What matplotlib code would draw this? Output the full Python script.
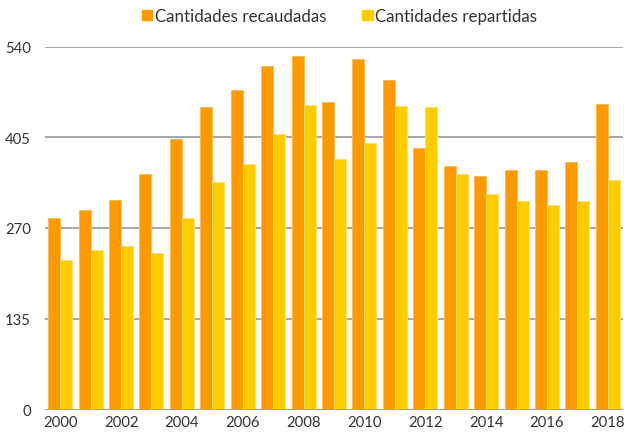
import matplotlib
matplotlib.use("Agg")
import matplotlib.pyplot as plt
import numpy as np
from matplotlib.patches import Patch

years = list(range(2000, 2019))
recaudadas = [285, 297, 311, 350, 403, 450, 475, 511, 526, 457, 521, 490,
              389, 362, 348, 356, 356, 368, 454]
repartidas = [222, 237, 243, 233, 285, 338, 365, 410, 453, 372, 396, 451,
              450, 350, 320, 310, 304, 310, 342]
yticks = [0, 135, 270, 405, 540]
xtick_years = list(range(2000, 2019, 2))

c_orange = "#FF9900"
c_yellow = "#FFCC00"
txt = "#333333"

plt.rcParams['font.family'] = ['Lato', 'DejaVu Sans']

fig = plt.figure(figsize=(6.24, 4.35), dpi=100)
ax = fig.add_axes([45/624, (435-410.5)/435, (623-45)/624, (410.5-47.5)/435])

x = np.arange(len(years))
w = 0.394
ax.bar(x - w/2, recaudadas, width=w, color=c_orange, edgecolor="#FFB84D",
       linewidth=0.6, zorder=3)
ax.bar(x + w/2, repartidas, width=w, color=c_yellow, edgecolor="#FFDD66",
       linewidth=0.6, zorder=3)

ax.set_xlim(-0.5, 18.5)
ax.set_ylim(0, 540)
ax.set_yticks(yticks)
ax.set_yticklabels([str(v) for v in yticks])
ax.yaxis.grid(True, color="#A0A0A0", linewidth=1.3, zorder=0)
ax.set_axisbelow(True)
for s in ax.spines.values():
    s.set_visible(False)
ax.axhline(0, color="#A0A0A0", linewidth=1.3, zorder=4)

ax.set_xticks([years.index(y) for y in xtick_years])
ax.set_xticklabels([str(y) for y in xtick_years])
ax.tick_params(axis="both", length=0, labelsize=10.7, colors=txt)
ax.tick_params(axis="y", pad=10)
ax.tick_params(axis="x", pad=4)

handles = [Patch(color=c_orange, label="Cantidades recaudadas"),
           Patch(color=c_yellow, label="Cantidades repartidas")]
fig.legend(handles=handles, loc="center", bbox_to_anchor=(0.544, 0.961), ncol=2,
           frameon=False, fontsize=12.2, handlelength=0.62, handleheight=0.62,
           handletextpad=0.15, columnspacing=2.1, labelcolor=txt)

fig.savefig("out.png", dpi=100)
